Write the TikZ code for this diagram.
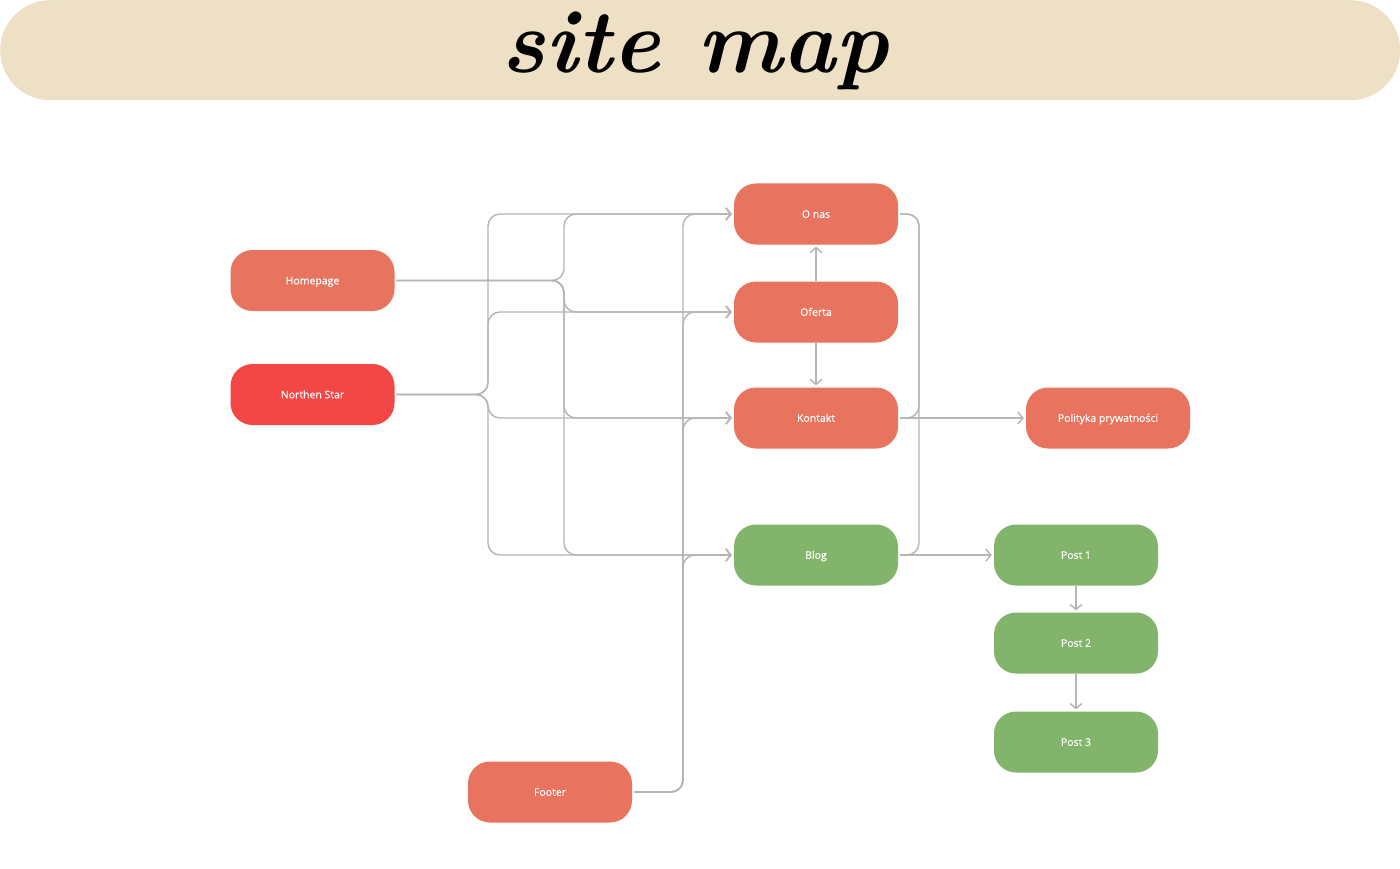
\documentclass[tikz,border=0pt]{standalone}
\usepackage{fontspec}
\setsansfont{Open Sans}
\newfontfamily\boxfont{Open Sans}[FakeBold=0.4]
\usetikzlibrary{arrows.meta}
\definecolor{banner}{HTML}{EEE0C5}
\definecolor{salmon}{HTML}{E8735F}
\definecolor{redstar}{HTML}{F24744}
\definecolor{greenbox}{HTML}{82B56B}
\definecolor{conn}{HTML}{B5B5B5}
\tikzset{
  box/.style={rectangle, rounded corners=22pt, minimum width=164pt, minimum height=61pt,
    inner sep=0pt, text height=7.6pt, text depth=0pt, text=white, font=\boxfont\fontsize{10.5}{12}\selectfont},
  redbox/.style={box, fill=salmon},
  starbox/.style={box, fill=redstar},
  grnbox/.style={box, fill=greenbox},
  wire/.style={draw=conn, line width=1.4pt, rounded corners=12pt},
  arr/.style={wire, -{Straight Barb[length=5pt,width=12pt,line width=1.4pt]}, shorten >=2pt},
}
\begin{document}
\begin{tikzpicture}[x=1pt,y=-1pt]
\useasboundingbox (0,0) rectangle (1400,869);
\fill[white] (0,0) rectangle (1400,869);
% banner
\node[fill=banner, rounded corners=50pt, minimum width=1400pt, minimum height=100pt, inner sep=0pt,
  anchor=north west] (banner) at (0,0) {};
\node[font=\fontsize{90}{90}\selectfont\bfseries\itshape, text=black, anchor=base, inner sep=0pt] (title) at (695,73) {site map};
% nodes
\node[redbox] (home) at (312.5,280.5) {Homepage};
\node[starbox] (star) at (312.5,394.5) {Northen Star};
\node[redbox] (onas) at (816,214) {O nas};
\node[redbox] (oferta) at (816,312) {Oferta};
\node[redbox] (kontakt) at (816,418) {Kontakt};
\node[grnbox] (blog) at (816,555) {Blog};
\node[redbox] (polityka) at (1108,418) {Polityka prywatności};
\node[grnbox] (post1) at (1076,555) {Post 1};
\node[grnbox] (post2) at (1076,643) {Post 2};
\node[grnbox] (post3) at (1076,742) {Post 3};
\node[redbox] (footer) at (550,792) {Footer};
% trunk coordinates
\coordinate (hA) at (564,280.5);
\coordinate (sA) at (488,394.5);
\coordinate (fA) at (683,792);
% left-side branches
\foreach \t/\y in {onas/214, oferta/312, kontakt/418, blog/555}{
  \draw[arr] ([xshift=2pt]home.east) -- (hA) -- (564,\y) -- (\t.west);
  \draw[arr] ([xshift=2pt]star.east) -- (sA) -- (488,\y) -- (\t.west);
  \draw[arr] ([xshift=2pt]footer.east) -- (fA) -- (683,\y) -- (\t.west);
}
% vertical arrows
\draw[arr] (oferta.north) -- (onas.south);
\draw[arr] (oferta.south) -- (kontakt.north);
\draw[arr] (post1.south) -- (post2.north);
\draw[arr] (post2.south) -- (post3.north);
% right side
\draw[arr] ([xshift=2pt]kontakt.east) -- (polityka.west);
\draw[arr] ([xshift=2pt]blog.east) -- (post1.west);
\coordinate (rA) at (919,214);
\draw[wire] ([xshift=2pt]onas.east) -- (rA) -- (919,418) -- ([xshift=2pt]kontakt.east);
\draw[wire] ([xshift=2pt]onas.east) -- (rA) -- (919,555) -- ([xshift=2pt]blog.east);
\end{tikzpicture}
\end{document}
